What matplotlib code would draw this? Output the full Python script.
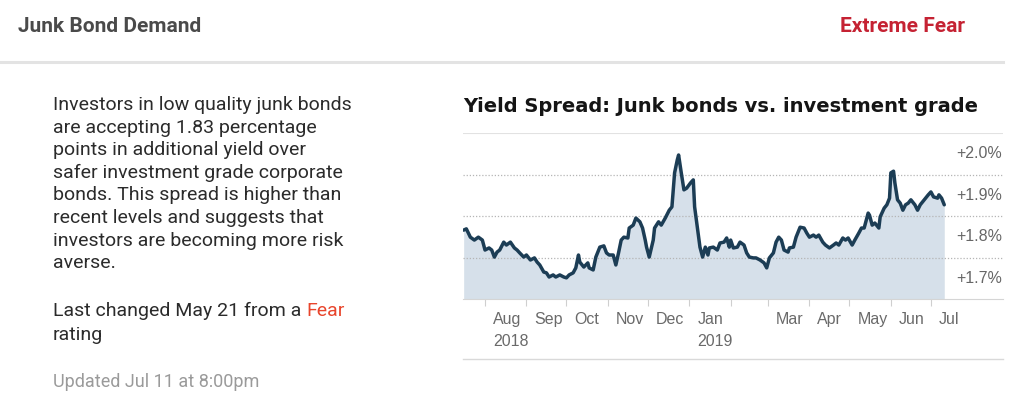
import matplotlib
matplotlib.use("Agg")
import matplotlib.pyplot as plt
import pandas as pd
from matplotlib.lines import Line2D
from matplotlib.text import Annotation
from matplotlib.transforms import ScaledTranslation, blended_transform_factory

plt.rcParams["font.family"] = ["Liberation Sans", "DejaVu Sans"]

# junk vs investment grade yield spread (%)
spread_dates = [
    "2018-07-16", "2018-07-18", "2018-07-21", "2018-07-24", "2018-07-27", "2018-07-30",
    "2018-08-01", "2018-08-04", "2018-08-06", "2018-08-08", "2018-08-10", "2018-08-12",
    "2018-08-15", "2018-08-17", "2018-08-20", "2018-08-23", "2018-08-25", "2018-08-27",
    "2018-08-30", "2018-09-01", "2018-09-04", "2018-09-07", "2018-09-09", "2018-09-11",
    "2018-09-14", "2018-09-16", "2018-09-18", "2018-09-21", "2018-09-23", "2018-09-26",
    "2018-09-29", "2018-10-01", "2018-10-03", "2018-10-06", "2018-10-08", "2018-10-10",
    "2018-10-11", "2018-10-14", "2018-10-17", "2018-10-18", "2018-10-21", "2018-10-23",
    "2018-10-26", "2018-10-29", "2018-10-31", "2018-11-02", "2018-11-05", "2018-11-07",
    "2018-11-09", "2018-11-11", "2018-11-13", "2018-11-16", "2018-11-17", "2018-11-20",
    "2018-11-22", "2018-11-25", "2018-11-27", "2018-11-29", "2018-11-30", "2018-12-02",
    "2018-12-05", "2018-12-06", "2018-12-09", "2018-12-11", "2018-12-14", "2018-12-17",
    "2018-12-19", "2018-12-21", "2018-12-23", "2018-12-24", "2018-12-26", "2018-12-28",
    "2018-12-30", "2019-01-02", "2019-01-04", "2019-01-05", "2019-01-07", "2019-01-09",
    "2019-01-11", "2019-01-13", "2019-01-15", "2019-01-16", "2019-01-19", "2019-01-22",
    "2019-01-24", "2019-01-27", "2019-01-29", "2019-01-31", "2019-02-01", "2019-02-03",
    "2019-02-06", "2019-02-08", "2019-02-11", "2019-02-13", "2019-02-15", "2019-02-18",
    "2019-02-20", "2019-02-23", "2019-02-26", "2019-02-28", "2019-03-02", "2019-03-05",
    "2019-03-07", "2019-03-09", "2019-03-11", "2019-03-13", "2019-03-16", "2019-03-17",
    "2019-03-20", "2019-03-22", "2019-03-25", "2019-03-28", "2019-03-30", "2019-04-01",
    "2019-04-04", "2019-04-06", "2019-04-08", "2019-04-11", "2019-04-13", "2019-04-16",
    "2019-04-19", "2019-04-21", "2019-04-23", "2019-04-26", "2019-04-28", "2019-04-30",
    "2019-05-03", "2019-05-05", "2019-05-08", "2019-05-10", "2019-05-12", "2019-05-15",
    "2019-05-16", "2019-05-18", "2019-05-20", "2019-05-23", "2019-05-24", "2019-05-27",
    "2019-05-29", "2019-05-31", "2019-06-01", "2019-06-03", "2019-06-04", "2019-06-06",
    "2019-06-08", "2019-06-10", "2019-06-12", "2019-06-14", "2019-06-16", "2019-06-19",
    "2019-06-21", "2019-06-23", "2019-06-26", "2019-06-29", "2019-07-01", "2019-07-03",
    "2019-07-06", "2019-07-07", "2019-07-09", "2019-07-11",
]
spread_values = [
    1.766, 1.769, 1.749, 1.742, 1.749, 1.742,
    1.718, 1.723, 1.718, 1.701, 1.713, 1.718,
    1.737, 1.730, 1.737, 1.723, 1.718, 1.711,
    1.701, 1.706, 1.694, 1.699, 1.689, 1.682,
    1.665, 1.663, 1.653, 1.658, 1.653, 1.658,
    1.653, 1.651, 1.658, 1.663, 1.675, 1.706,
    1.689, 1.677, 1.687, 1.675, 1.670, 1.701,
    1.725, 1.728, 1.711, 1.706, 1.706, 1.682,
    1.711, 1.742, 1.749, 1.747, 1.771, 1.778,
    1.795, 1.786, 1.771, 1.742, 1.725, 1.701,
    1.742, 1.771, 1.786, 1.778, 1.795, 1.814,
    1.822, 1.904, 1.935, 1.947, 1.904, 1.863,
    1.867, 1.880, 1.887, 1.822, 1.773, 1.725,
    1.701, 1.725, 1.706, 1.723, 1.725, 1.718,
    1.735, 1.737, 1.747, 1.725, 1.742, 1.723,
    1.725, 1.737, 1.730, 1.711, 1.701, 1.699,
    1.699, 1.694, 1.687, 1.675, 1.699, 1.711,
    1.737, 1.749, 1.742, 1.718, 1.713, 1.723,
    1.725, 1.749, 1.773, 1.771, 1.759, 1.749,
    1.754, 1.749, 1.754, 1.737, 1.730, 1.723,
    1.730, 1.735, 1.730, 1.747, 1.742, 1.747,
    1.730, 1.742, 1.759, 1.771, 1.771, 1.807,
    1.802, 1.778, 1.783, 1.771, 1.798, 1.819,
    1.827, 1.843, 1.904, 1.908, 1.880, 1.839,
    1.831, 1.814, 1.827, 1.831, 1.839, 1.827,
    1.814, 1.827, 1.839, 1.851, 1.858, 1.846,
    1.843, 1.851, 1.843, 1.827,
]

month_ticks = ["2018-08-01", "2018-09-01", "2018-10-01", "2018-11-01", "2018-12-01",
               "2019-01-01", "2019-02-01", "2019-03-01", "2019-04-01", "2019-05-01",
               "2019-06-01", "2019-07-01"]
month_labels = ["Aug\n2018", "Sep", "Oct", "Nov", "Dec", "Jan\n2019", "",
                "Mar", "Apr", "May", "Jun", "Jul"]
pct_ticks = [1.7, 1.8, 1.9, 2.0]
pct_labels = ["+1.7%", "+1.8%", "+1.9%", "+2.0%"]

paragraph_lines = [
    "Investors in low quality junk bonds",
    "are accepting 1.83 percentage",
    "points in additional yield over",
    "safer investment grade corporate",
    "bonds. This spread is higher than",
    "recent levels and suggests that",
    "investors are becoming more risk",
    "averse.",
]

W, H = 1024, 399
fig = plt.figure(figsize=(W / 100, H / 100), dpi=100)
fig.patch.set_facecolor("white")


def fx(px):
    return px / W


def fy(py):
    return 1 - py / H


# header
fig.text(fx(18), fy(26), "Junk Bond Demand", family="Roboto", fontweight="bold",
         fontsize=15, color="#4a4a4a", va="center")
fig.text(fx(965), fy(26), "Extreme Fear", family="Roboto", fontweight="bold",
         fontsize=15, color="#c52233", va="center", ha="right")
fig.add_artist(Line2D([0, fx(1003)], [fy(62), fy(62)], color="#e3e3e3", lw=2.2))

# left text block
para_kw = dict(family="Roboto", fontsize=14, color="#2b2b2b", va="center")
for i, line in enumerate(paragraph_lines):
    fig.text(fx(53), fy(105 + i * 22.6), line, **para_kw)
t = fig.text(fx(53), fy(311), "Last changed May 21 from a", **para_kw)
fig.add_artist(Annotation("Fear", xy=(1, 0), xycoords=t, xytext=(3.8, 0),
                          textcoords="offset points", va="bottom",
                          family="Roboto", fontsize=14, color="#e8452c"))
fig.text(fx(53), fy(335), "rating", **para_kw)
fig.text(fx(53), fy(382), "Updated Jul 11 at 8:00pm", family="Roboto",
         fontsize=13, color="#9a9a9a", va="center")

# chart
fig.text(fx(463), fy(106), "Yield Spread: Junk bonds vs. investment grade",
         family="DejaVu Sans", fontweight="bold", fontsize=14, color="#151515",
         va="center")

ax = fig.add_axes([fx(463), fy(299), fx(1003) - fx(463), fy(133) - fy(299)])
x = pd.to_datetime(spread_dates)
ax.fill_between(x, spread_values, 1.6, color="#d6e0ea", lw=0, zorder=1)
ax.plot(x, spread_values, color="#1c3d55", lw=2.5, solid_joinstyle="round",
        solid_capstyle="round", zorder=3)
for v in pct_ticks[:-1]:
    ax.axhline(v, color="#b5b5b5", ls=(0, (1, 1.5)), lw=0.9, zorder=2)
ax.axhline(2.0, color="#e2e2e2", lw=1.5, zorder=2)

ax.set_ylim(1.6, 2.0)
ax.set_xlim(pd.Timestamp("2018-07-15 12:00"), pd.Timestamp("2019-08-24"))
ax.set_facecolor("none")
for side in ["top", "right", "left"]:
    ax.spines[side].set_visible(False)
ax.spines["bottom"].set_color("#d5d5d5")
ax.spines["bottom"].set_linewidth(0.8)
ax.set_yticks([])

ax.set_xticks(pd.to_datetime(month_ticks))
ax.set_xticklabels(month_labels)
ax.tick_params(axis="x", length=5, color="#cfcfcf", pad=4.5, labelsize=11.5,
               labelcolor="#6a6a6a")
offset = ScaledTranslation(8 / 100, 0, fig.dpi_scale_trans)
for lab in ax.get_xticklabels():
    lab.set_horizontalalignment("left")
    lab.set_linespacing(1.55)
    lab.set_transform(lab.get_transform() + offset)

ytrans = blended_transform_factory(ax.transAxes, ax.transData) + \
    ScaledTranslation(0, -0.21, fig.dpi_scale_trans)
for v, s in zip(pct_ticks, pct_labels):
    ax.text(0.998, v, s, transform=ytrans, ha="right", va="center",
            fontsize=11.5, color="#666666")

fig.add_artist(Line2D([fx(463), fx(1003)], [fy(359), fy(359)], color="#d9d9d9", lw=1))

fig.savefig("out.png", dpi=100, facecolor="white")
